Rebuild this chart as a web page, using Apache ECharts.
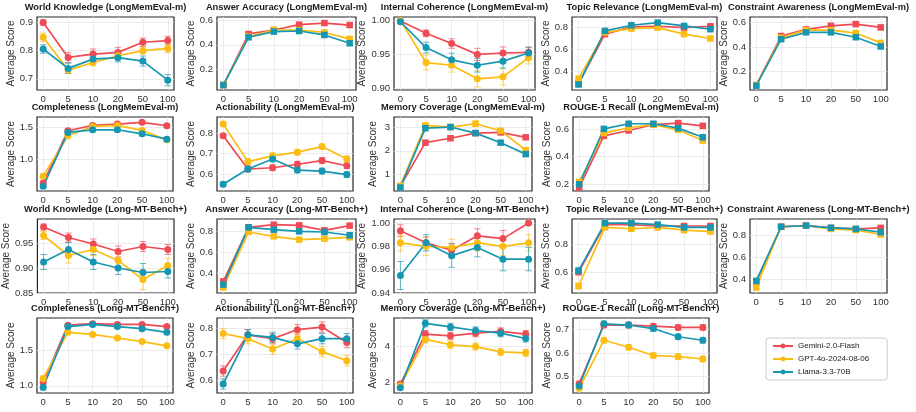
<!DOCTYPE html>
<html>
<head>
<meta charset="utf-8">
<script src="https://cdn.jsdelivr.net/npm/echarts@6/dist/echarts.min.js"></script>
<style>
  html, body { margin: 0; padding: 0; background: #fff; }
  #chart { width: 916px; height: 412px; }
</style>
</head>
<body>
<div id="chart"></div>
<script>
const models = ['Gemini-2.0-Flash', 'GPT-4o-2024-08-06', 'Llama-3.3-70B'];
const colors = ['#EF4B55', '#FBBD12', '#1697B1'];
const xLabels = ['0', '5', '10', '20', '50', '100'];

// LongMemEval-m  (rows: gemini, gpt, llama)
const wkLme = [[0.900, 0.776, 0.788, 0.794, 0.830, 0.836], [0.848, 0.731, 0.758, 0.782, 0.800, 0.808], [0.806, 0.737, 0.770, 0.775, 0.763, 0.695]];
const wkLmeErr = [[0.010, 0.018, 0.018, 0.018, 0.015, 0.015], [0.015, 0.012, 0.012, 0.015, 0.012, 0.015], [0.015, 0.018, 0.015, 0.015, 0.018, 0.020]];
const aaLme = [[0.075, 0.488, 0.520, 0.563, 0.576, 0.560], [0.075, 0.467, 0.520, 0.520, 0.500, 0.448], [0.075, 0.461, 0.507, 0.512, 0.480, 0.413]];
const aaLmeErr = [[0.010, 0.015, 0.015, 0.018, 0.018, 0.018], [0.010, 0.015, 0.015, 0.018, 0.018, 0.018], [0.010, 0.015, 0.015, 0.018, 0.018, 0.018]];
const icLme = [[0.999, 0.981, 0.966, 0.950, 0.952, 0.953], [1.000, 0.938, 0.934, 0.914, 0.917, 0.945], [0.998, 0.960, 0.942, 0.934, 0.940, 0.952]];
const icLmeErr = [[0.002, 0.005, 0.007, 0.009, 0.009, 0.008], [0.002, 0.011, 0.010, 0.012, 0.012, 0.009], [0.002, 0.008, 0.010, 0.010, 0.010, 0.008]];
const trLme = [[0.287, 0.734, 0.800, 0.806, 0.794, 0.806], [0.330, 0.750, 0.785, 0.794, 0.734, 0.695], [0.277, 0.764, 0.815, 0.839, 0.809, 0.779]];
const trLmeErr = [[0.015, 0.012, 0.010, 0.010, 0.012, 0.012], [0.015, 0.012, 0.010, 0.010, 0.012, 0.012], [0.015, 0.012, 0.010, 0.010, 0.012, 0.012]];
const caLme = [[0.090, 0.490, 0.544, 0.573, 0.587, 0.560], [0.090, 0.477, 0.538, 0.538, 0.514, 0.434], [0.085, 0.464, 0.520, 0.520, 0.480, 0.405]];
const caLmeErr = [[0.010, 0.015, 0.015, 0.018, 0.018, 0.018], [0.010, 0.015, 0.015, 0.018, 0.018, 0.018], [0.010, 0.015, 0.015, 0.018, 0.018, 0.018]];
const coLme = [[0.635, 1.443, 1.526, 1.547, 1.573, 1.521], [0.740, 1.365, 1.510, 1.526, 1.448, 1.302], [0.583, 1.417, 1.458, 1.458, 1.396, 1.313]];
const coLmeErr = [[0.03, 0.03, 0.03, 0.03, 0.03, 0.03], [0.03, 0.03, 0.03, 0.03, 0.03, 0.03], [0.03, 0.03, 0.03, 0.03, 0.03, 0.03]];
const acLme = [[0.787, 0.625, 0.631, 0.648, 0.666, 0.641], [0.844, 0.661, 0.689, 0.707, 0.734, 0.674], [0.551, 0.625, 0.674, 0.620, 0.615, 0.598]];
const acLmeErr = [[0.011, 0.014, 0.014, 0.014, 0.015, 0.014], [0.011, 0.014, 0.014, 0.014, 0.013, 0.014], [0.012, 0.014, 0.014, 0.014, 0.014, 0.014]];
const mcLme = [[0.48, 2.35, 2.54, 2.76, 2.79, 2.58], [0.50, 3.09, 3.02, 3.16, 2.86, 2.03], [0.43, 2.97, 3.02, 2.76, 2.35, 1.86]];
const mcLmeErr = [[0.06, 0.08, 0.08, 0.08, 0.08, 0.08], [0.06, 0.08, 0.08, 0.12, 0.10, 0.08], [0.06, 0.08, 0.08, 0.08, 0.08, 0.08]];
const rgLme = [[0.176, 0.551, 0.590, 0.632, 0.644, 0.624], [0.217, 0.571, 0.610, 0.632, 0.595, 0.517], [0.200, 0.602, 0.639, 0.639, 0.607, 0.541]];
const rgLmeErr = [[0.012, 0.012, 0.012, 0.012, 0.012, 0.015], [0.012, 0.012, 0.012, 0.012, 0.012, 0.015], [0.012, 0.012, 0.012, 0.012, 0.012, 0.015]];

// Long-MT-Bench+
const wkMt = [[0.982, 0.961, 0.948, 0.933, 0.943, 0.937], [0.965, 0.925, 0.937, 0.915, 0.877, 0.905], [0.912, 0.937, 0.912, 0.900, 0.891, 0.893]];
const wkMtErr = [[0.006, 0.009, 0.010, 0.011, 0.010, 0.010], [0.008, 0.015, 0.012, 0.013, 0.020, 0.015], [0.015, 0.014, 0.015, 0.013, 0.018, 0.013]];
const aaMt = [[0.327, 0.838, 0.863, 0.857, 0.810, 0.854], [0.270, 0.794, 0.753, 0.722, 0.731, 0.744], [0.296, 0.838, 0.816, 0.800, 0.794, 0.763]];
const aaMtErr = [[0.02, 0.015, 0.015, 0.015, 0.015, 0.015], [0.02, 0.015, 0.015, 0.015, 0.015, 0.015], [0.02, 0.015, 0.015, 0.015, 0.015, 0.015]];
const icMt = [[0.9934, 0.983, 0.9766, 0.989, 0.9866, 1.000], [0.983, 0.980, 0.979, 0.983, 0.980, 0.983], [0.955, 0.983, 0.972, 0.979, 0.969, 0.969]];
const icMtErr = [[0.005, 0.005, 0.006, 0.006, 0.007, 0.001], [0.007, 0.008, 0.007, 0.007, 0.008, 0.007], [0.012, 0.007, 0.010, 0.008, 0.010, 0.010]];
const trMt = [[0.60, 0.94, 0.94, 0.93, 0.93, 0.93], [0.50, 0.92, 0.91, 0.92, 0.90, 0.89], [0.61, 0.95, 0.95, 0.94, 0.92, 0.92]];
const trMtErr = [[0.02, 0.01, 0.01, 0.01, 0.01, 0.01], [0.02, 0.01, 0.01, 0.01, 0.01, 0.01], [0.02, 0.01, 0.01, 0.01, 0.01, 0.01]];
const caMt = [[0.38, 0.88, 0.89, 0.87, 0.86, 0.87], [0.33, 0.88, 0.89, 0.86, 0.85, 0.81], [0.39, 0.88, 0.89, 0.87, 0.86, 0.83]];
const caMtErr = [[0.02, 0.01, 0.01, 0.01, 0.01, 0.01], [0.02, 0.01, 0.01, 0.01, 0.01, 0.01], [0.02, 0.01, 0.01, 0.01, 0.01, 0.01]];
const coMt = [[1.05, 1.85, 1.87, 1.86, 1.86, 1.83], [1.10, 1.75, 1.72, 1.67, 1.62, 1.56], [0.98, 1.83, 1.86, 1.83, 1.80, 1.75]];
const coMtErr = [[0.04, 0.02, 0.02, 0.02, 0.02, 0.02], [0.04, 0.02, 0.02, 0.02, 0.02, 0.02], [0.04, 0.02, 0.02, 0.02, 0.02, 0.02]];
const acMt = [[0.635, 0.775, 0.760, 0.795, 0.805, 0.745], [0.780, 0.760, 0.720, 0.760, 0.710, 0.675], [0.585, 0.775, 0.765, 0.740, 0.760, 0.760]];
const acMtErr = [[0.02, 0.02, 0.02, 0.02, 0.02, 0.02], [0.02, 0.02, 0.02, 0.02, 0.02, 0.02], [0.02, 0.02, 0.02, 0.02, 0.02, 0.02]];
const mcMt = [[1.90, 4.70, 4.60, 4.75, 4.85, 4.70], [1.80, 4.40, 4.10, 4.00, 3.70, 3.65], [1.70, 5.30, 5.10, 4.90, 4.75, 4.45]];
const mcMtErr = [[0.12, 0.20, 0.20, 0.20, 0.20, 0.20], [0.12, 0.20, 0.20, 0.20, 0.20, 0.20], [0.12, 0.20, 0.20, 0.20, 0.20, 0.20]];
const rgMt = [[0.470, 0.720, 0.720, 0.715, 0.710, 0.710], [0.450, 0.655, 0.625, 0.590, 0.585, 0.575], [0.460, 0.725, 0.720, 0.705, 0.670, 0.655]];
const rgMtErr = [[0.01, 0.012, 0.012, 0.012, 0.012, 0.012], [0.01, 0.012, 0.012, 0.012, 0.012, 0.012], [0.01, 0.012, 0.012, 0.012, 0.012, 0.012]];

// layout (frames of each row)
const rowTop = [17, 117, 219, 318];
const rowBottom = [90, 191, 293, 393];
const wideLeft = [37, 217, 394, 572, 750], wideRight = [174, 356, 535, 717, 887];
const narrowLeft = [37, 217, 394, 573], narrowRight = [173, 353, 532, 709];

const panels = [
  { title: 'World Knowledge (LongMemEval-m)', d: wkLme, e: wkLmeErr, min: 0.66, max: 0.92, ticks: ['0.7', '0.8', '0.9'], sym: 'circle' },
  { title: 'Answer Accuracy (LongMemEval-m)', d: aaLme, e: aaLmeErr, min: 0.035, max: 0.625, ticks: ['0.2', '0.4', '0.6'], sym: 'rect' },
  { title: 'Internal Coherence (LongMemEval-m)', d: icLme, e: icLmeErr, min: 0.8976, max: 1.005, ticks: ['0.90', '0.95', '1.00'], sym: 'circle' },
  { title: 'Topic Relevance (LongMemEval-m)', d: trLme, e: trLmeErr, min: 0.227, max: 0.89, ticks: ['0.4', '0.6', '0.8'], sym: 'rect' },
  { title: 'Constraint Awareness (LongMemEval-m)', d: caLme, e: caLmeErr, min: 0.05, max: 0.645, ticks: ['0.2', '0.4', '0.6'], sym: 'rect' },
  { title: 'Completeness (LongMemEval-m)', d: coLme, e: coLmeErr, min: 0.51, max: 1.656, ticks: ['1.0', '1.5'], sym: 'circle' },
  { title: 'Actionability (LongMemEval-m)', d: acLme, e: acLmeErr, min: 0.518, max: 0.878, ticks: ['0.6', '0.7', '0.8'], sym: 'circle' },
  { title: 'Memory Coverage (LongMemEval-m)', d: mcLme, e: mcLmeErr, min: 0.28, max: 3.45, ticks: ['1', '2', '3'], sym: 'rect' },
  { title: 'ROUGE-1 Recall (LongMemEval-m)', d: rgLme, e: rgLmeErr, min: 0.151, max: 0.688, ticks: ['0.2', '0.4', '0.6'], sym: 'rect' },
  { title: 'World Knowledge (Long-MT-Bench+)', d: wkMt, e: wkMtErr, min: 0.85, max: 0.998, ticks: ['0.85', '0.90', '0.95'], sym: 'circle' },
  { title: 'Answer Accuracy (Long-MT-Bench+)', d: aaMt, e: aaMtErr, min: 0.217, max: 0.917, ticks: ['0.4', '0.6', '0.8'], sym: 'rect' },
  { title: 'Internal Coherence (Long-MT-Bench+)', d: icMt, e: icMtErr, min: 0.94, max: 1.0034, ticks: ['0.94', '0.96', '0.98', '1.00'], sym: 'circle' },
  { title: 'Topic Relevance (Long-MT-Bench+)', d: trMt, e: trMtErr, min: 0.45, max: 0.98, ticks: ['0.6', '0.8'], sym: 'rect' },
  { title: 'Constraint Awareness (Long-MT-Bench+)', d: caMt, e: caMtErr, min: 0.28, max: 0.95, ticks: ['0.4', '0.6', '0.8'], sym: 'rect' },
  { title: 'Completeness (Long-MT-Bench+)', d: coMt, e: coMtErr, min: 0.9, max: 1.95, ticks: ['1.0', '1.5'], sym: 'circle' },
  { title: 'Actionability (Long-MT-Bench+)', d: acMt, e: acMtErr, min: 0.55, max: 0.84, ticks: ['0.6', '0.7', '0.8'], sym: 'circle' },
  { title: 'Memory Coverage (Long-MT-Bench+)', d: mcMt, e: mcMtErr, min: 1.4, max: 5.6, ticks: ['2', '4'], sym: 'circle' },
  { title: 'ROUGE-1 Recall (Long-MT-Bench+)', d: rgMt, e: rgMtErr, min: 0.43, max: 0.75, ticks: ['0.5', '0.6', '0.7'], sym: 'circle' }
];

const FONT = '"Liberation Sans", Arial, sans-serif';
const xIdx = xLabels.map((_, i) => i);

function renderErr(params, api) {
  const x = api.value(0);
  const lo = api.coord([x, api.value(1)]);
  const hi = api.coord([x, api.value(2)]);
  const w = 3.2;
  const style = { stroke: api.visual('color'), lineWidth: 1, opacity: 0.65 };
  return {
    type: 'group',
    children: [
      { type: 'line', shape: { x1: lo[0], y1: lo[1], x2: hi[0], y2: hi[1] }, style },
      { type: 'line', shape: { x1: lo[0] - w, y1: lo[1], x2: lo[0] + w, y2: lo[1] }, style },
      { type: 'line', shape: { x1: hi[0] - w, y1: hi[1], x2: hi[0] + w, y2: hi[1] }, style }
    ]
  };
}

const grids = [], xAxes = [], yAxes = [], titles = [], series = [];

// panels 0-4 row0, 5-8 row1, 9-13 row2, 14-17 row3
const slots = [];
[5, 4, 5, 4].forEach((n, r) => { for (let c = 0; c < n; c++) slots.push([r, c]); });

panels.forEach((p, i) => {
  const [r, c] = slots[i];
  const wide = (r % 2 === 0);
  const left = wide ? wideLeft[c] : narrowLeft[c];
  const right = wide ? wideRight[c] : narrowRight[c];
  grids.push({
    left: left, top: rowTop[r], width: right - left, height: rowBottom[r] - rowTop[r],
    show: true, borderColor: '#262626', borderWidth: 1.2, backgroundColor: '#fff'
  });
  titles.push({
    text: p.title, left: (left + right) / 2, top: rowTop[r] - 14, textAlign: 'center', padding: 0,
    textStyle: { fontFamily: FONT, fontSize: 9.3, fontWeight: 'bold', color: '#1a1a1a' }
  });
  xAxes.push({
    type: 'value', gridIndex: i, min: -0.25, max: 5.25,
    axisLine: { show: false }, axisTick: { show: false, customValues: xIdx },
    axisLabel: { customValues: xIdx, formatter: v => xLabels[v], fontFamily: FONT, fontSize: 9.5, color: '#333', margin: 4 },
    splitLine: { show: true, lineStyle: { color: '#e6e6e6', width: 0.8 } }
  });
  const tv = p.ticks.map(Number);
  yAxes.push({
    type: 'value', gridIndex: i, min: p.min, max: p.max,
    name: 'Average Score', nameLocation: 'middle', nameGap: 16,
    nameTextStyle: { fontFamily: FONT, fontSize: 10, color: '#333' },
    axisLine: { show: false }, axisTick: { show: false, customValues: tv },
    axisLabel: { customValues: tv, formatter: v => p.ticks[tv.indexOf(v)], fontFamily: FONT, fontSize: 9.5, color: '#333', margin: 4 },
    splitLine: { show: true, lineStyle: { color: '#e6e6e6', width: 0.8 } }
  });
  models.forEach((m, k) => {
    series.push({
      type: 'custom', name: 'err', xAxisIndex: i, yAxisIndex: i, z: 2,
      itemStyle: { color: colors[k] }, renderItem: renderErr, silent: true,
      data: p.d[k].map((v, j) => [j, v - p.e[k][j], v + p.e[k][j]])
    });
  });
  models.forEach((m, k) => {
    series.push({
      type: 'line', name: m, xAxisIndex: i, yAxisIndex: i, z: 3,
      symbol: p.sym, symbolSize: p.sym === 'rect' ? 6.5 : 7, showSymbol: true,
      itemStyle: { color: colors[k], opacity: 1 }, lineStyle: { color: colors[k], width: 1.7 },
      data: p.d[k].map((v, j) => [j, v])
    });
  });
});

const chart = echarts.init(document.getElementById('chart'), null, { renderer: 'canvas' });
chart.setOption({
  animation: false,
  backgroundColor: '#fff',
  title: titles,
  grid: grids,
  xAxis: xAxes,
  yAxis: yAxes,
  legend: {
    data: models, orient: 'vertical', left: 766, top: 338,
    itemWidth: 20, itemHeight: 6, itemGap: 5,
    borderColor: '#cccccc', borderWidth: 1, borderRadius: 3, padding: [4, 18, 4, 6],
    textStyle: { fontFamily: FONT, fontSize: 8, color: '#222' }
  },
  series: series
});
</script>
</body>
</html>
